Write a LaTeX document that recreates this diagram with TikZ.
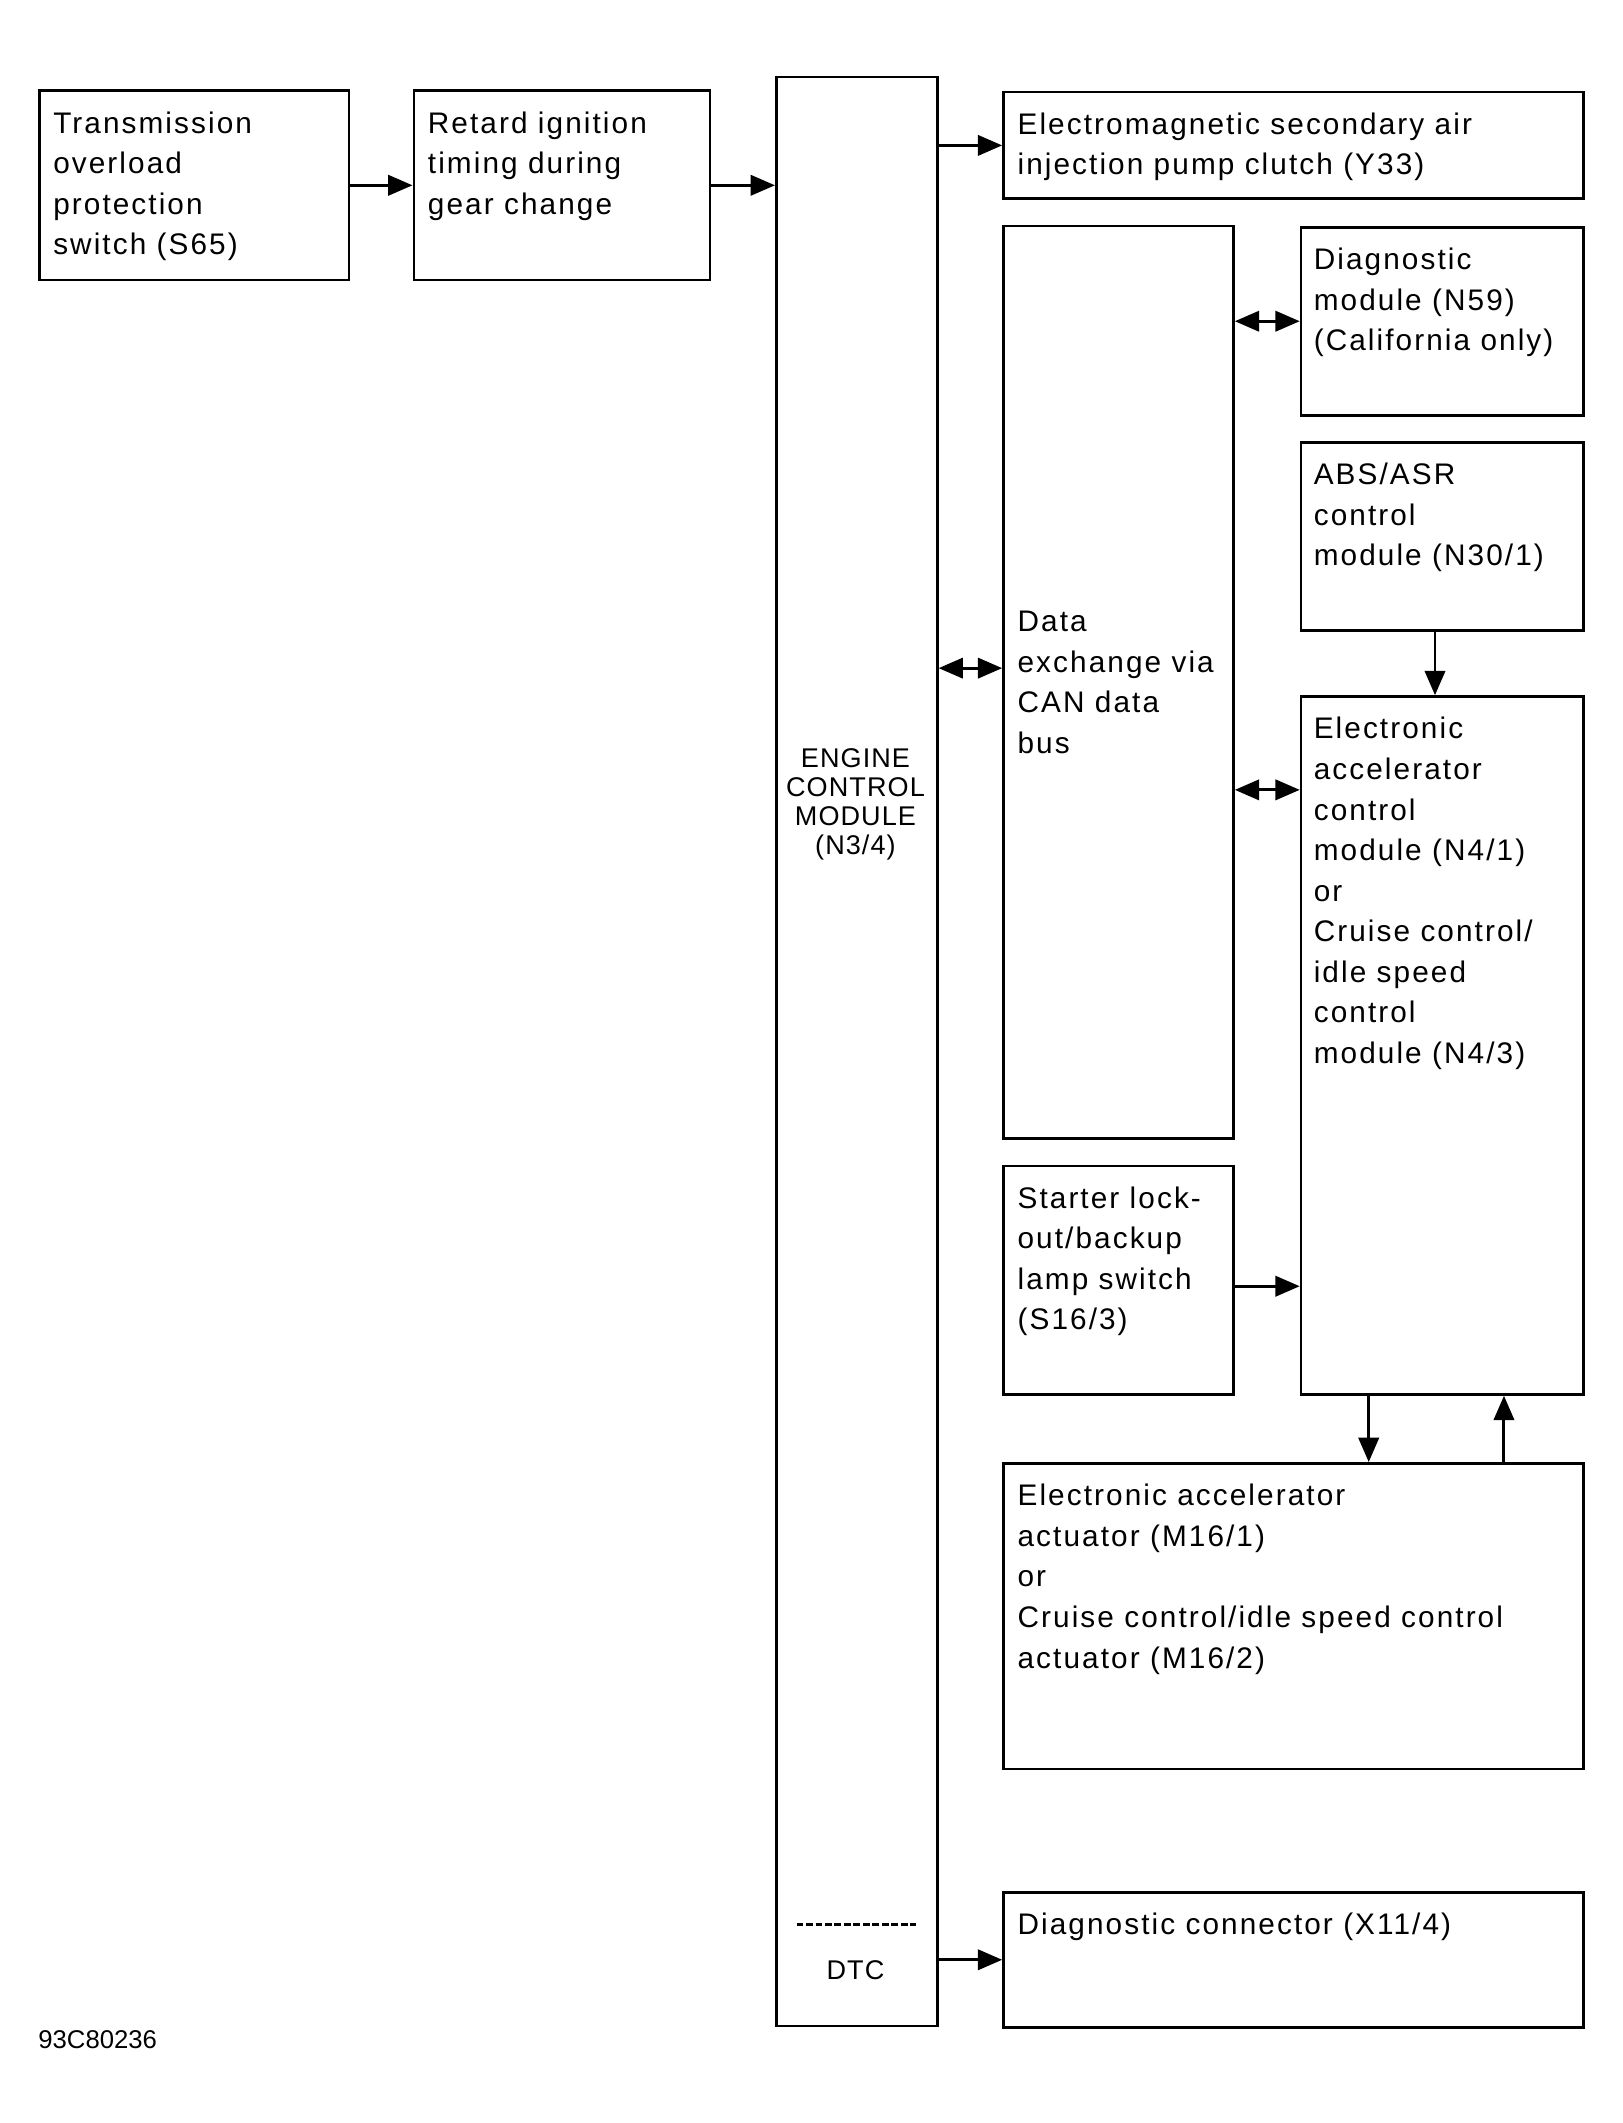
\documentclass[tikz,border=0pt]{standalone}
\usepackage{fontspec}
\usepackage{tikz}
\usetikzlibrary{arrows.meta}
\newfontfamily\schema{Liberation Sans}[LetterSpace=7]
\newfontfamily\schemaecm{Liberation Sans}[LetterSpace=4]
\newfontfamily\schemaref{Liberation Sans}

\begin{document}
\begin{tikzpicture}[x=0.5pt, y=-0.5pt]
	\tikzset{bloc/.style={rectangle, draw=black, line width=1pt, inner sep=0pt, anchor=north west},
	texte/.style={font=\schema\fontsize{11}{15}\selectfont, align=left, anchor=north west, inner sep=0pt},
	ecmtexte/.style={font=\schemaecm\fontsize{10}{10.75}\selectfont, align=center, inner sep=0pt},
	fleche/.style={line width=1.1pt, -{Triangle[length=9pt, width=7.5pt]}},
	dfleche/.style={line width=1.1pt, {Triangle[length=9pt, width=7.5pt]}-{Triangle[length=9pt, width=7.5pt]}}};

	\useasboundingbox (0,0) rectangle (1200,1569.7);

	% les blocs
	\foreach \nom/\xa/\ya/\xb/\yb [evaluate=\xb as \lw using (\xb-\xa)/2, evaluate=\yb as \lh using (\yb-\ya)/2]
		in {trans/28/66/257/206, retard/305/66/524/206, ecm/573/56/692/1497,
		y33/741/67/1170/146, can/741/166/911/841, n59/961/167/1170/306,
		abs/961/326/1170/465, n41/961/514/1170/1030, starter/741/861/911/1030,
		act/741/1081/1170/1307, x11/741/1398/1170/1498}{
		\node[bloc, minimum width=\lw pt, minimum height=\lh pt] (\nom) at (\xa,\ya) {};
	}

	\node[texte] (trans-t) at ([shift={(5.5pt,-8pt)}]trans.north west) {Transmission\\overload\\protection\\switch (S65)};
	\node[texte] (retard-t) at ([shift={(5.5pt,-8pt)}]retard.north west) {Retard ignition\\timing during\\gear change};
	\node[texte] (y33-t) at ([shift={(5.5pt,-8pt)}]y33.north west) {Electromagnetic secondary air\\injection pump clutch (Y33)};
	\node[texte, anchor=west] (can-t) at ([xshift=5.5pt]can.west) {Data\\exchange via\\CAN data\\bus};
	\node[texte] (n59-t) at ([shift={(5pt,-8pt)}]n59.north west) {Diagnostic\\module (N59)\\(California only)};
	\node[texte] (abs-t) at ([shift={(5pt,-8pt)}]abs.north west) {ABS/ASR\\control\\module (N30/1)};
	\node[texte] (n41-t) at ([shift={(5pt,-8pt)}]n41.north west) {Electronic\\accelerator\\control\\module (N4/1)\\or\\Cruise control/\\idle speed\\control\\module (N4/3)};
	\node[texte] (starter-t) at ([shift={(5.5pt,-8pt)}]starter.north west) {Starter lock-\\out/backup\\lamp switch\\(S16/3)};
	\node[texte] (act-t) at ([shift={(5.5pt,-8pt)}]act.north west) {Electronic accelerator\\actuator (M16/1)\\or\\Cruise control/idle speed control\\actuator (M16/2)};
	\node[texte] (x11-t) at ([shift={(5.5pt,-8pt)}]x11.north west) {Diagnostic connector (X11/4)};

	\node[ecmtexte] (ecm-t) at (632.5,594.5) {ENGINE\\CONTROL\\MODULE\\(N3/4)};
	\node[ecmtexte] (dtc) at (632.5,1457) {DTC};
	\draw[line width=1pt, dash pattern=on 2.5pt off 1pt] (589,1423) -- (677,1423);

	\node[font=\schemaref\fontsize{9.5}{11}\selectfont, anchor=west, inner sep=0pt] (ref) at (28,1508) {93C80236};

	% les liaisons
	\draw[fleche] (trans) -- (retard);
	\draw[fleche] (retard.east) -- (retard.east -| ecm.west);
	\draw[fleche] (ecm.east |- y33.west) -- (y33.west);
	\draw[dfleche] (ecm.east |- 0,494) -- (can.west |- 0,494);
	\draw[dfleche] (n59.west -| can.east) -- (n59.west);
	\draw[dfleche] (can.east |- 0,584) -- (n41.west |- 0,584);
	\draw[fleche] (1061,0 |- abs.south) -- (1061,0 |- n41.north);
	\draw[fleche] (starter.east |- 0,951) -- (n41.west |- 0,951);
	\draw[fleche] (1012,0 |- n41.south) -- (1012,0 |- act.north);
	\draw[fleche] (1112,0 |- act.north) -- (1112,0 |- n41.south);
	\draw[fleche] (ecm.east |- x11.west) -- (x11.west);
\end{tikzpicture}
\end{document}
